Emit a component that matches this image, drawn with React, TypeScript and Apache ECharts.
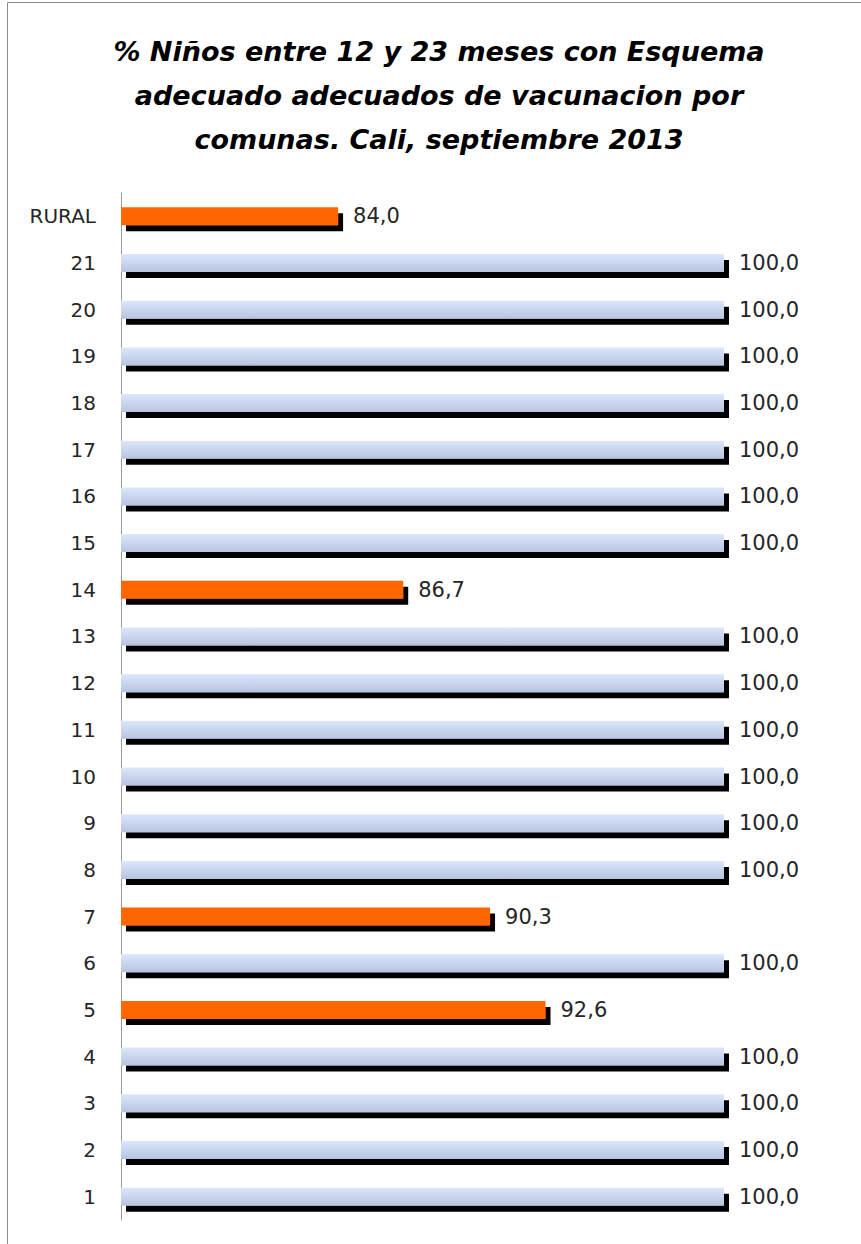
import React, { useEffect, useRef } from "react";
import * as echarts from "echarts";

const categories = ["1", "2", "3", "4", "5", "6", "7", "8", "9", "10", "11", "12", "13", "14", "15", "16", "17", "18", "19", "20", "21", "RURAL"];
const values = [100.0, 100.0, 100.0, 100.0, 92.6, 100.0, 90.3, 100.0, 100.0, 100.0, 100.0, 100.0, 100.0, 86.7, 100.0, 100.0, 100.0, 100.0, 100.0, 100.0, 100.0, 84.0];
const titleLines = ["% Niños entre 12 y 23 meses con Esquema", "adecuado adecuados de vacunacion por", "comunas. Cali, septiembre 2013"];

const ORANGE = "#ff6600";
const blueGradient = new echarts.graphic.LinearGradient(0, 0, 0, 1, [
  { offset: 0, color: "#dce7fb" },
  { offset: 1, color: "#b7c4e0" },
]);

export default function App() {
  const ref = useRef<HTMLDivElement>(null);
  useEffect(() => {
    if (!ref.current) return;
    const chart = echarts.init(ref.current, null, { renderer: "svg" });
    chart.setOption({
      animation: false,
      backgroundColor: "#ffffff",
      graphic: [
        {
          type: "rect",
          shape: { x: 7.5, y: 2.5, width: 900, height: 1300 },
          style: { fill: "none", stroke: "#8c8c8c", lineWidth: 1 },
          silent: true,
        },
        {
          type: "text",
          x: 439,
          y: 29,
          style: {
            text: titleLines.join("\n"),
            font: "italic bold 27px 'DejaVu Sans'",
            fill: "#000000",
            align: "center",
            verticalAlign: "top",
            lineHeight: 44,
          },
        },
      ],
      grid: { left: 121, right: 137, top: 193, bottom: 24, containLabel: false },
      xAxis: {
        type: "value",
        min: 75,
        max: 100,
        show: false,
      },
      yAxis: {
        type: "category",
        data: categories,
        axisLine: { show: true, lineStyle: { color: "#9a9a9a", width: 1 } },
        axisTick: { show: false },
        axisLabel: { fontFamily: "DejaVu Sans", fontSize: 20, color: "#262626", margin: 25 },
        splitLine: { show: false },
      },
      series: [
        {
          type: "bar",
          data: values.map((v) => ({
            value: v,
            itemStyle: {
              color: v < 100 ? ORANGE : blueGradient,
              shadowColor: "#000000",
              shadowBlur: 0,
              shadowOffsetX: 5,
              shadowOffsetY: 6,
            },
          })),
          barWidth: 18,
          label: {
            show: true,
            position: "right",
            distance: 15,
            fontFamily: "DejaVu Sans",
            fontSize: 21,
            color: "#262626",
            formatter: (p: any) => Number(p.value).toFixed(1).replace(".", ","),
          },
        },
      ],
    });
    return () => chart.dispose();
  }, []);
  return <div ref={ref} style={{ position: "absolute", left: 0, top: 0, width: 861, height: 1244 }} />;
}
